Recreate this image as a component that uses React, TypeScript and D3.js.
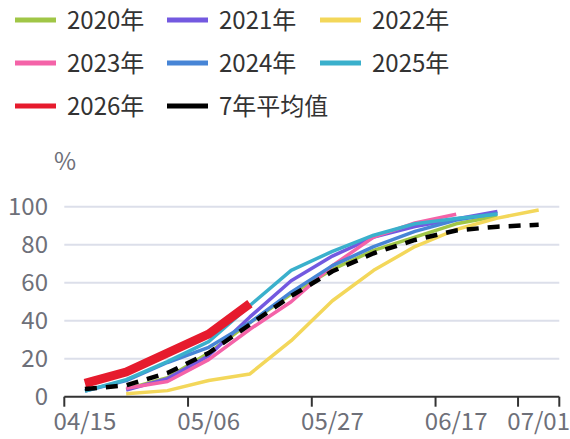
import React from "react";
import * as d3 from "d3";

const dates = ["04/15", "04/22", "04/29", "05/06", "05/13", "05/20", "05/27", "06/03", "06/10", "06/17", "06/24", "07/01"];
const v2020 = [null, 4, 10, 23, 39, 54, 67, 77, 84, 91, 95, null];
const v2021 = [null, 3.5, 9.5, 21.5, 42, 61, 74, 84, 89.5, 93.5, 97.5, null];
const v2022 = [null, 1.5, 3.2, 8.5, 12, 29.5, 50.5, 66.5, 79, 88, 94, 98.3];
const v2023 = [null, 4.5, 8, 19.5, 35.5, 50, 69, 84, 91.5, 96, null, null];
const v2024 = [3, 8.5, 18, 26, 39, 55, 69, 79, 87, 93, 96.5, null];
const v2025 = [3, 9, 18.5, 29, 48, 66.5, 76.5, 85, 91, 93.8, 96, null];
const v2026 = [7, 13, 23, 33, 49, null, null, null, null, null, null, null];
const vAvg = [4, 6, 12.5, 23, 38, 53, 66, 75.5, 82.5, 87.5, 89.5, 90.5];

const xTickLabels = ["04/15", "05/06", "05/27", "06/17", "07/01"];
const yTicks = [0, 20, 40, 60, 80, 100];

const seriesNames = ["2020年", "2021年", "2022年", "2023年", "2024年", "2025年", "2026年", "7年平均值"];
const seriesValues = [v2020, v2021, v2022, v2023, v2024, v2025, v2026, vAvg];
const seriesColors = ["#a0c646", "#7359e0", "#f3d75a", "#f463a8", "#4785d6", "#3ab0cc", "#e61b2d", "#000000"];
const seriesWidths = [3.5, 3.5, 3.5, 3.5, 3.5, 3.5, 9, 4.5];

const FONT = "'Noto Sans CJK SC', 'Noto Sans', sans-serif";

export default function App() {
  const W = 570, H = 439;
  const left = 64.3, right = 559.3, top = 206.7, bottom = 396.7;
  const x = d3.scaleBand<string>().domain(dates).range([left, right]).paddingInner(0).paddingOuter(0);
  const bw = x.bandwidth();
  const cx = (d: string) => (x(d) as number) + bw / 2;
  const y = d3.scaleLinear().domain([0, 100]).range([bottom, top]);

  const line = d3.line<[string, number | null]>()
    .defined((d) => d[1] != null)
    .x((d) => cx(d[0]))
    .y((d) => y(d[1] as number));

  const legendCols = [15, 167, 320];
  const legendRows = [20, 63, 106];

  return (
    <svg width={W} height={H} style={{ position: "absolute", left: 0, top: 0, background: "#fff" }} fontFamily={FONT}>
      {/* legend */}
      {seriesNames.map((name, i) => {
        const lx = legendCols[i % 3];
        const ly = legendRows[Math.floor(i / 3)];
        return (
          <g key={name}>
            <line x1={lx} x2={lx + 41} y1={ly} y2={ly} stroke={seriesColors[i]} strokeWidth={5} />
            <text x={lx + 52} y={ly} dy="0.36em" fontSize={24} fill="#333">{name}</text>
          </g>
        );
      })}

      {/* y unit */}
      <text x={65} y={170} fontSize={24} fill="#6e7079" textAnchor="middle">%</text>

      {/* grid */}
      {yTicks.filter((t) => t > 0).map((t) => (
        <line key={t} x1={left} x2={right} y1={y(t)} y2={y(t)} stroke="#dcdfea" strokeWidth={2} />
      ))}
      {yTicks.map((t) => (
        <text key={"yl" + t} x={48} y={y(t)} dy="0.34em" fontSize={24} fill="#6e7079" textAnchor="end">{t}</text>
      ))}

      {/* series */}
      {seriesValues.map((vals, i) => {
        const data = dates.map((d, j) => [d, vals[j]] as [string, number | null]);
        return (
          <path
            key={seriesNames[i]}
            d={line(data) || ""}
            fill="none"
            stroke={seriesColors[i]}
            strokeWidth={seriesWidths[i]}
            strokeDasharray={i === 7 ? "12,9" : undefined}
            strokeLinejoin="round"
          />
        );
      })}

      {/* x axis */}
      <line x1={left} x2={right} y1={bottom} y2={bottom} stroke="#333" strokeWidth={2} />
      {xTickLabels.map((lab) => {
        const xs = x(lab) as number;
        return (
          <g key={lab}>
            <line x1={xs} x2={xs} y1={bottom} y2={bottom + 10} stroke="#333" strokeWidth={2} />
            <text x={cx(lab)} y={430} fontSize={24} fill="#6e7079" textAnchor="middle">{lab}</text>
          </g>
        );
      })}
      <line x1={right} x2={right} y1={bottom} y2={bottom + 10} stroke="#333" strokeWidth={2} />
    </svg>
  );
}
